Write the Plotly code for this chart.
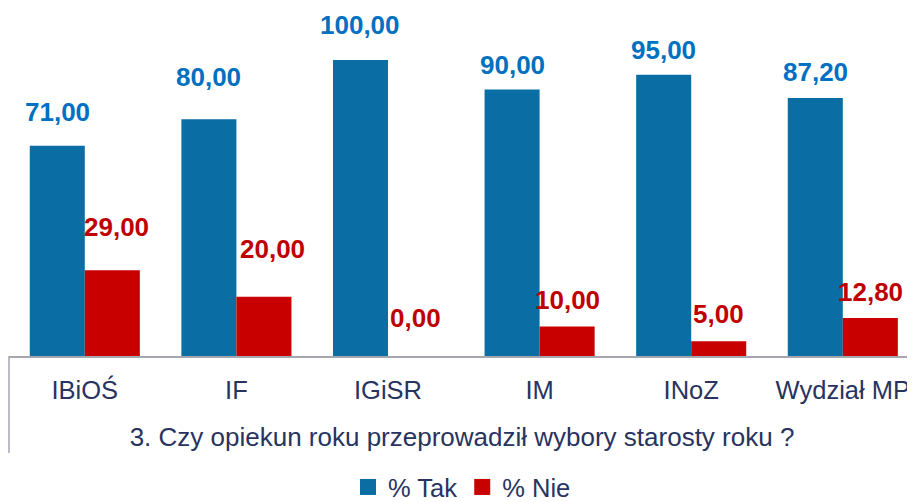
import plotly.graph_objects as go

categories = ["IBiOŚ", "IF", "IGiSR", "IM", "INoZ", "Wydział MP"]
tak_values = [71.00, 80.00, 100.00, 90.00, 95.00, 87.20]
nie_values = [29.00, 20.00, 0.00, 10.00, 5.00, 12.80]
series_names = ["% Tak", "% Nie"]
axis_title = "3. Czy opiekun roku przeprowadził wybory starosty roku ?"

# style constants (label offsets in px above bar top, per point)
LABEL_DY_TAK = [34, 42, 35, 25, 25, 26]
LABEL_DY_NIE = [43, 48, 38, 26, 27, 26]
LABEL_DX_NIE = [4, 9, 0, 0, 0, 0]

BLUE = "#0A6EA5"
RED = "#C80000"
BLUE_TXT = "#0070C0"
RED_TXT = "#C00000"
NAVY = "#28335F"
FONT = "Arial, Liberation Sans, sans-serif"

# page body has an 8px margin; figure sized to fit the 915x502 window
OFF = 8
W, H = 915 - OFF, 502 - OFF
ML, MR, MT, MB = 1, 0, 0, 146
plot_w = W - ML - MR
plot_h = H - MT - MB
cat_px = 151.6
span = plot_w / cat_px
px_per_unit = 2.96

fig = go.Figure()
fig.add_trace(go.Bar(x=categories, y=tak_values, name=series_names[0],
                     marker=dict(color=BLUE, line=dict(width=0)), showlegend=False))
fig.add_trace(go.Bar(x=categories, y=nie_values, name=series_names[1],
                     marker=dict(color=RED, line=dict(width=0)), showlegend=False))
# legend proxies
for nm, col in zip(series_names, [BLUE, RED]):
    fig.add_trace(go.Scatter(x=[None], y=[None], mode="markers", name=nm,
                             marker=dict(symbol="square", size=16, color=col)))

bar_w = cat_px * (1 - 0.274) / 2
annotations = []
for i, c in enumerate(categories):
    annotations.append(dict(x=c, y=tak_values[i], xref="x", yref="y",
                            text=f"{tak_values[i]:.2f}".replace(".", ","),
                            showarrow=False, xshift=-bar_w / 2, yshift=LABEL_DY_TAK[i],
                            yanchor="middle", xanchor="center",
                            font=dict(family=FONT, size=26, color=BLUE_TXT, weight="bold")))
    annotations.append(dict(x=c, y=nie_values[i], xref="x", yref="y",
                            text=f"{nie_values[i]:.2f}".replace(".", ","),
                            showarrow=False, xshift=bar_w / 2 + LABEL_DX_NIE[i],
                            yshift=LABEL_DY_NIE[i],
                            yanchor="middle", xanchor="center",
                            font=dict(family=FONT, size=26, color=RED_TXT, weight="bold")))

fig.update_layout(
    width=W, height=H,
    margin=dict(l=ML, r=MR, t=MT, b=MB, pad=0, autoexpand=False),
    paper_bgcolor="white", plot_bgcolor="white",
    barmode="group", bargap=0.274, bargroupgap=0,
    font=dict(family=FONT, color=NAVY, size=26),
    annotations=annotations,
    showlegend=True,
    legend=dict(orientation="h", x=0.5, xanchor="center", y=-0.31, yanchor="top",
                font=dict(family=FONT, size=25.5, color=NAVY),
                itemwidth=30, tracegroupgap=0, bgcolor="rgba(0,0,0,0)"),
    xaxis=dict(type="category", range=[-0.5, -0.5 + span], showgrid=False,
               showline=True, linecolor="#A6A6AE", linewidth=2, ticks="",
               tickfont=dict(family=FONT, size=25.5, color=NAVY),
               ticklabelstandoff=10,
               title=dict(text=axis_title, font=dict(family=FONT, size=26, color=NAVY),
                          standoff=25),
               automargin=False, fixedrange=True),
    yaxis=dict(range=[0, plot_h / px_per_unit], visible=False, showgrid=False,
               zeroline=False, fixedrange=True),
    shapes=[dict(type="line", xref="paper", yref="paper", x0=0, x1=0,
                 y0=0, y1=-97 / plot_h,
                 line=dict(color="#A6A6B4", width=1.5))],
)

fig.write_html("out.html")
